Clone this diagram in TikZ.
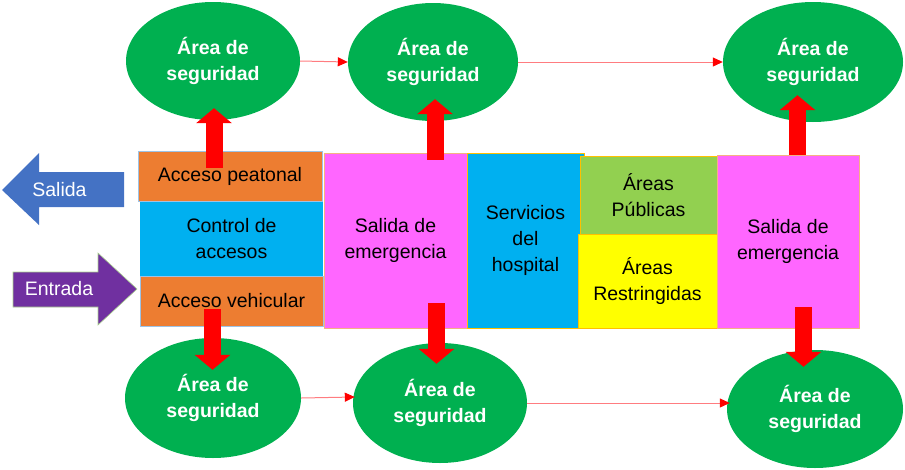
\documentclass[tikz,border=0pt]{standalone}
\usepackage{fontspec}
\setmainfont{Liberation Sans}
\usetikzlibrary{arrows.meta,shapes.geometric,calc}
\definecolor{cOrange}{HTML}{ED7D31}
\definecolor{cBlue}{HTML}{00B0F0}
\definecolor{cPink}{HTML}{FF66FF}
\definecolor{cGreen}{HTML}{92D050}
\definecolor{cYellow}{HTML}{FFFF00}
\definecolor{cEll}{HTML}{00B050}
\definecolor{cSal}{HTML}{4472C4}
\definecolor{cEnt}{HTML}{7030A0}
\definecolor{cLine}{HTML}{FF7C80}
\definecolor{bLBlue}{HTML}{9DC3E6}
\definecolor{bLOrange}{HTML}{F4B183}
\definecolor{bGold}{HTML}{FFC000}
\definecolor{bLGreen}{HTML}{A9D18E}
\tikzset{
  txt/.style={font=\fontsize{19.5}{26}\selectfont, align=center, text=black},
  box/.style={txt, rectangle, inner sep=0pt, line width=0.8pt},
  zone/.style={ellipse, fill=cEll, inner sep=0pt, align=center,
     font=\bfseries\fontsize{19.5}{26}\selectfont, text=white},
  thin link/.style={draw=cLine, line width=1pt, -{Triangle[length=10pt,width=9pt,red]}},
  fat link/.style={draw=red, line width=17pt, -{Triangle[length=15pt,width=35pt,red]}},
}
\begin{document}
\begin{tikzpicture}[x=1pt,y=-1pt]
\useasboundingbox (0,0) rectangle (905,469);

% ellipses
\node[zone, minimum width=174pt, minimum height=118pt] (e1) at (213,61) {Área de\\seguridad};
\node[zone, minimum width=170pt, minimum height=118pt] (e2) at (433,62) {Área de\\seguridad};
\node[zone, minimum width=180pt, minimum height=120pt] (e3) at (813,62) {Área de\\seguridad};
\node[zone, minimum width=176pt, minimum height=120pt] (b1) at (213,398) {Área de\\seguridad};
\node[zone, minimum width=174pt, minimum height=120pt] (b2) at (440,403) {Área de\\seguridad};
\node[zone, minimum width=176pt, minimum height=118pt] (b3) at (815,409) {Área de\\seguridad};

% boxes
\node[box, fill=cOrange, draw=bLBlue, minimum width=184pt, minimum height=50pt] (peat) at (230,176) {Acceso peatonal};
\node[box, fill=cBlue, minimum width=183pt, minimum height=74pt] (ctrl) at (231.5,239) {Control de\\accesos};
\node[box, fill=cOrange, draw=bLBlue, minimum width=183pt, minimum height=50pt] (veh) at (231.5,301) {Acceso vehicular};
\node[box, fill=cPink, draw=bLOrange, minimum width=143pt, minimum height=175pt] (sal1) at (395.5,240.5) {Salida de\\emergencia};
\node[box, fill=cBlue, draw=bGold, minimum width=117pt, minimum height=175pt] (serv) at (525.5,240.5) {Servicios\\del\\hospital};
\node[box, fill=cGreen, draw=bGold, minimum width=137pt, minimum height=78pt] (pub) at (648.5,195) {Áreas\\Públicas};
\node[box, fill=cYellow, draw=bGold, minimum width=139pt, minimum height=94pt] (rest) at (647.5,281) {Áreas\\Restringidas};
\node[box, fill=cPink, draw=bLOrange, minimum width=142pt, minimum height=173pt] (sal2) at (788,241.5) {Salida de\\emergencia};

% block arrows Salida / Entrada
\fill[cSal] (2,190) -- (39,153) -- (39,172) -- (124,172) -- (124,207) -- (39,207) -- (39,225) -- cycle;
\node[txt, text=white] (salida) at (59.5,190) {Salida};
\filldraw[fill=cEnt, draw=bLGreen, line width=0.6pt] (13,272) -- (98,272) -- (98,253) -- (137,289) -- (98,325) -- (98,307) -- (13,307) -- cycle;
\node[txt, text=white] (entrada) at (59,289) {Entrada};

% thin connectors
\draw[thin link] (e1.east) -- (e2.west);
\draw[thin link] (e2.east) -- (e3.west |- e2.east);
\draw[thin link] (b1.east) -- ($(b2.west)+(2,-6)$);
\draw[thin link] (b2.east) -- ($(b3.west |- b2.east)+(3,0)$);

% fat arrows
\draw[fat link] ($(e1.south |- peat.north)+(1,17)$) -- ($(e1.south)+(1,-12)$);
\draw[fat link] ($(e2.south |- sal1.north)+(2,7)$) -- ($(e2.south)+(2,-22)$);
\draw[fat link] ($(e3.south |- sal2.north)+(-15.5,0)$) -- ($(e3.south)+(-15.5,-27)$);
\draw[fat link] ($(b1.north |- veh.south)+(-0.5,-17)$) -- ($(b1.north)+(-0.5,32)$);
\draw[fat link] ($(b2.north |- sal1.south)+(-3.5,-25)$) -- ($(b2.north)+(-3.5,21)$);
\draw[fat link] ($(b3.north |- sal2.south)+(-11.5,-21)$) -- ($(b3.north)+(-11.5,17)$);
\end{tikzpicture}
\end{document}
